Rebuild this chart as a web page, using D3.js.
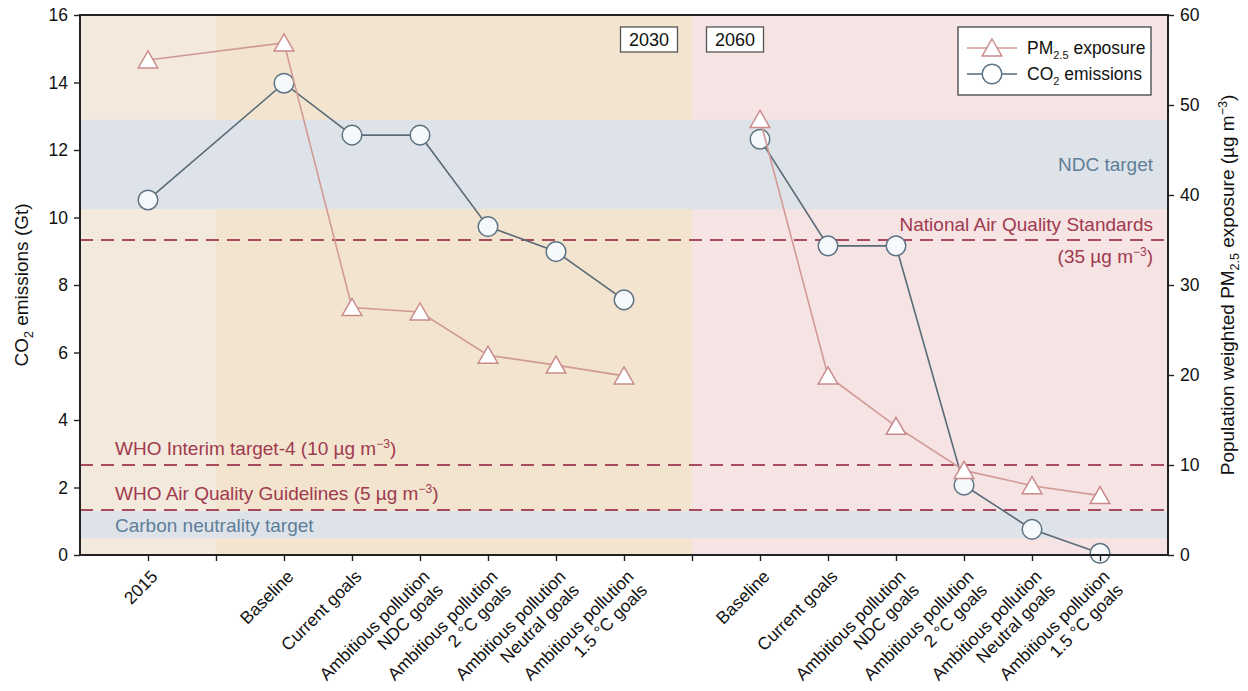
<!DOCTYPE html>
<html>
<head>
<meta charset="utf-8">
<script src="https://cdn.jsdelivr.net/npm/d3@7"></script>
<style>
  html, body { margin: 0; padding: 0; background: #ffffff; }
  svg { display: block; font-family: "Liberation Sans", Arial, Helvetica, sans-serif; }
</style>
</head>
<body>
<svg id="chart" width="1248" height="691"></svg>
<script>
// Scenario categories along the x axis (blank slots separate the periods)
const categories = [
  "2015", "",
  "Baseline", "Current goals",
  "Ambitious pollution\nNDC goals", "Ambitious pollution\n2 °C goals",
  "Ambitious pollution\nNeutral goals", "Ambitious pollution\n1.5 °C goals",
  "",
  "Baseline", "Current goals",
  "Ambitious pollution\nNDC goals", "Ambitious pollution\n2 °C goals",
  "Ambitious pollution\nNeutral goals", "Ambitious pollution\n1.5 °C goals"
];

// CO2 emissions (Gt), left axis
const co2 = [10.52, null, 13.98, 12.44, 12.44, 9.73, 8.99, 7.56, null, 12.32, 9.16, 9.16, 2.07, 0.76, 0.05];
// Population weighted PM2.5 exposure (µg m-3), right axis
const pm25 = [55.0, null, 56.9, 27.5, 27.0, 22.2, 21.1, 19.9, null, 48.4, 19.9, 14.3, 9.4, 7.7, 6.6];

// Connected runs of points (2015 joins the 2030 scenarios)
const segments = [[0, 2, 3, 4, 5, 6, 7], [9, 10, 11, 12, 13, 14]];

// Tick values
const leftTicks = [0, 2, 4, 6, 8, 10, 12, 14, 16];
const rightTicks = [0, 10, 20, 30, 40, 50, 60];

// Target bands on the CO2 axis (Gt)
const ndcBand = [10.25, 12.9];
const neutralityBand = [0.5, 1.3];

// Air quality standards on the PM2.5 axis (µg m-3)
const standardValues = [35, 10, 5];

// Period labels and the slots where the shading changes
const periodLabels = ["2030", "2060"];
const periodBreaks = [1, 8];

const svg = d3.select("#chart");
const L = 80, R = 1168, T = 15, B = 555;

const x = d3.scalePoint().domain(d3.range(categories.length)).range([L, R]).padding(1);
const yL = d3.scaleLinear().domain([0, 16]).range([B, T]);
const yR = d3.scaleLinear().domain([0, 60]).range([B, T]);

const red = "#a03a4e", blueText = "#5f7e98";

// Background shading per period
const shade = [
  { x0: L, x1: x(periodBreaks[0]), fill: "#f3e9dd" },
  { x0: x(periodBreaks[0]), x1: x(periodBreaks[1]), fill: "#f3e4cf" },
  { x0: x(periodBreaks[1]), x1: R, fill: "#f6e3e3" }
];
svg.append("g").selectAll("rect").data(shade).join("rect")
  .attr("x", d => d.x0).attr("y", T).attr("width", d => d.x1 - d.x0).attr("height", B - T)
  .attr("fill", d => d.fill);

// Target bands
svg.append("g").selectAll("rect").data([ndcBand, neutralityBand]).join("rect")
  .attr("x", L).attr("width", R - L)
  .attr("y", d => yL(d[1])).attr("height", d => yL(d[0]) - yL(d[1]))
  .attr("fill", "#dee3ea");

// Standard lines
svg.append("g").selectAll("line").data(standardValues).join("line")
  .attr("x1", L).attr("x2", R)
  .attr("y1", d => yR(d)).attr("y2", d => yR(d))
  .attr("stroke", "#a84b5e").attr("stroke-width", 1.8).attr("stroke-dasharray", "13,8");

// Annotation text
const ann = svg.append("g").style("font-size", "19px");
ann.append("text").attr("x", 1153).attr("y", (yL(ndcBand[0]) + yL(ndcBand[1])) / 2 + 7)
  .attr("text-anchor", "end").attr("fill", blueText).text("NDC target");
ann.append("text").attr("x", 1153).attr("y", yR(35) - 9)
  .attr("text-anchor", "end").attr("fill", red).text("National Air Quality Standards");
const t35 = ann.append("text").attr("x", 1153).attr("y", yR(35) + 23).attr("text-anchor", "end").attr("fill", red);
t35.append("tspan").text("(35 µg m");
t35.append("tspan").attr("dy", -7).style("font-size", "12px").text("−3");
t35.append("tspan").attr("dy", 7).text(")");
const t10 = ann.append("text").attr("x", 115).attr("y", yR(10) - 10).attr("fill", red);
t10.append("tspan").text("WHO Interim target-4 (10 µg m");
t10.append("tspan").attr("dy", -7).style("font-size", "12px").text("−3");
t10.append("tspan").attr("dy", 7).text(")");
const t5 = ann.append("text").attr("x", 115).attr("y", yR(5) - 10).attr("fill", red);
t5.append("tspan").text("WHO Air Quality Guidelines (5 µg m");
t5.append("tspan").attr("dy", -7).style("font-size", "12px").text("−3");
t5.append("tspan").attr("dy", 7).text(")");
ann.append("text").attr("x", 115).attr("y", (yL(neutralityBand[0]) + yL(neutralityBand[1])) / 2 + 7)
  .attr("fill", blueText).text("Carbon neutrality target");

// Period label boxes
const boxes = svg.append("g");
[{ label: periodLabels[0], cx: 649 }, { label: periodLabels[1], cx: 735 }].forEach(b => {
  boxes.append("rect").attr("x", b.cx - 28.5).attr("y", 27).attr("width", 57).attr("height", 25)
    .attr("fill", "#fff").attr("stroke", "#555").attr("stroke-width", 1.3);
  boxes.append("text").attr("x", b.cx).attr("y", 46).attr("text-anchor", "middle")
    .style("font-size", "18px").attr("fill", "#111").text(b.label);
});

// Series
const co2Line = d3.line().x(i => x(i)).y(i => yL(co2[i]));
const pmLine = d3.line().x(i => x(i)).y(i => yR(pm25[i]));
const co2Color = "#5a6b78", pmColor = "#d29a95";

const triPath = "M0,-9L9.8,8L-9.8,8Z";

svg.append("g").selectAll("path").data(segments).join("path")
  .attr("d", co2Line).attr("fill", "none").attr("stroke", co2Color).attr("stroke-width", 1.6);
svg.append("g").selectAll("circle").data(d3.range(co2.length).filter(i => co2[i] != null)).join("circle")
  .attr("cx", i => x(i)).attr("cy", i => yL(co2[i])).attr("r", 9.8)
  .attr("fill", "#f6f9fb").attr("stroke", "#5d7282").attr("stroke-width", 1.5);

svg.append("g").selectAll("path").data(segments).join("path")
  .attr("d", pmLine).attr("fill", "none").attr("stroke", pmColor).attr("stroke-width", 1.6);
svg.append("g").selectAll("path").data(d3.range(pm25.length).filter(i => pm25[i] != null)).join("path")
  .attr("d", triPath).attr("transform", i => `translate(${x(i)},${yR(pm25[i])})`)
  .attr("fill", "#ffffff").attr("stroke", "#c98a8a").attr("stroke-width", 1.5);

// Axes
const axisStyle = g => {
  g.select(".domain").remove();
  g.selectAll(".tick line").attr("stroke", "#222").attr("stroke-width", 1.4);
  g.selectAll(".tick text").attr("fill", "#111").style("font-size", "17.5px");
};
svg.append("g").attr("transform", `translate(${L},0)`)
  .call(d3.axisLeft(yL).tickValues(leftTicks).tickSize(6).tickPadding(6).tickFormat(d3.format("d")))
  .call(axisStyle);
svg.append("g").attr("transform", `translate(${R},0)`)
  .call(d3.axisRight(yR).tickValues(rightTicks).tickSize(6).tickPadding(6).tickFormat(d3.format("d")))
  .call(axisStyle);
const xAxis = svg.append("g").attr("transform", `translate(0,${B})`)
  .call(d3.axisBottom(x).tickSize(6).tickFormat(""));
xAxis.select(".domain").remove();
xAxis.selectAll(".tick line").attr("stroke", "#222").attr("stroke-width", 1.4);

// X tick labels, rotated, possibly on two lines
const xl = svg.append("g").style("font-size", "17.5px").attr("fill", "#111");
categories.forEach((c, i) => {
  if (!c) return;
  const t = xl.append("text")
    .attr("transform", `translate(${x(i) + 2},${B + 14}) rotate(-45)`)
    .attr("text-anchor", "end");
  c.split("\n").forEach((line, k) => {
    t.append("tspan").attr("x", 0).attr("dy", k === 0 ? "0.7em" : "1.1em").text(line);
  });
});

// Frame
svg.append("rect").attr("x", L).attr("y", T).attr("width", R - L).attr("height", B - T)
  .attr("fill", "none").attr("stroke", "#222").attr("stroke-width", 2);

// Axis titles
const lt = svg.append("text").attr("transform", `translate(28,${(T + B) / 2}) rotate(-90)`)
  .attr("text-anchor", "middle").style("font-size", "19px").attr("fill", "#111");
lt.append("tspan").text("CO");
lt.append("tspan").attr("dy", 5).style("font-size", "12.5px").text("2");
lt.append("tspan").attr("dy", -5).text(" emissions (Gt)");

const rt = svg.append("text").attr("transform", `translate(1234,${(T + B) / 2}) rotate(-90)`)
  .attr("text-anchor", "middle").style("font-size", "19px").attr("fill", "#111");
rt.append("tspan").text("Population weighted PM");
rt.append("tspan").attr("dy", 5).style("font-size", "12.5px").text("2.5");
rt.append("tspan").attr("dy", -5).text(" exposure (µg m");
rt.append("tspan").attr("dy", -7).style("font-size", "12.5px").text("−3");
rt.append("tspan").attr("dy", 7).text(")");

// Legend
const lg = svg.append("g");
lg.append("rect").attr("x", 958).attr("y", 27).attr("width", 193).attr("height", 68)
  .attr("fill", "#fff").attr("stroke", "#444").attr("stroke-width", 1.3);
const legendItems = [
  { y: 48, color: pmColor, kind: "tri", main: "PM", sub: "2.5", rest: " exposure" },
  { y: 74, color: co2Color, kind: "circ", main: "CO", sub: "2", rest: " emissions" }
];
legendItems.forEach(it => {
  lg.append("line").attr("x1", 967).attr("x2", 1017).attr("y1", it.y).attr("y2", it.y)
    .attr("stroke", it.color).attr("stroke-width", 1.6);
  if (it.kind === "tri") {
    lg.append("path").attr("d", triPath).attr("transform", `translate(992,${it.y})`)
      .attr("fill", "#fff").attr("stroke", "#c98a8a").attr("stroke-width", 1.5);
  } else {
    lg.append("circle").attr("cx", 992).attr("cy", it.y).attr("r", 9.8)
      .attr("fill", "#fff").attr("stroke", "#5d7282").attr("stroke-width", 1.5);
  }
  const t = lg.append("text").attr("x", 1027).attr("y", it.y + 6).style("font-size", "17.5px").attr("fill", "#111");
  t.append("tspan").text(it.main);
  t.append("tspan").attr("dy", 5).style("font-size", "11px").text(it.sub);
  t.append("tspan").attr("dy", -5).text(it.rest);
});
</script>
</body>
</html>
